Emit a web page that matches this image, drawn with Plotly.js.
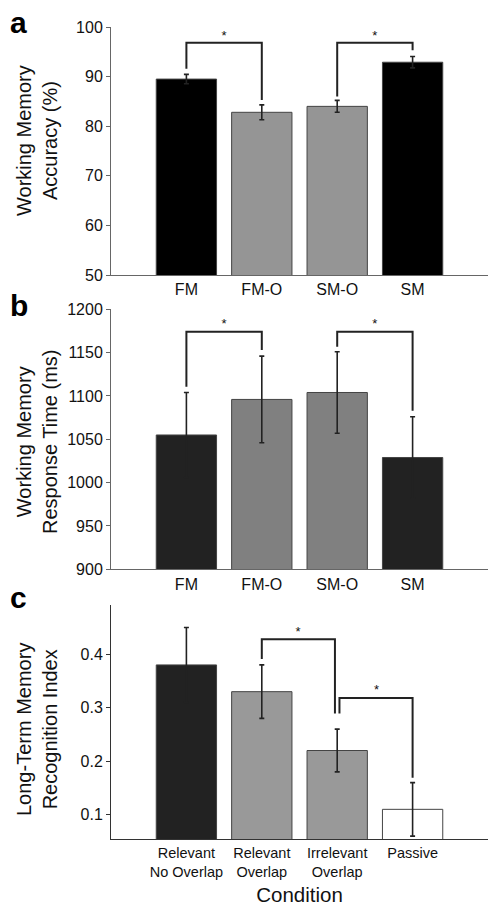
<!DOCTYPE html>
<html><head><meta charset="utf-8">
<script src="https://cdn.plot.ly/plotly-3.0.1.min.js"></script>
<style>html,body{margin:0;padding:0;background:#fff}</style></head>
<body>
<div id="chart" style="width:498px;height:914px"></div>
<script>
// ---- data ----
const positions = [1, 2, 3, 4];
const conditionsWM = ['FM', 'FM-O', 'SM-O', 'SM'];
const accuracyMean = [89.5, 82.8, 84.0, 92.9];
const accuracyErr = [0.95, 1.5, 1.2, 1.15];
const rtMean = [1055, 1096, 1104, 1029];
const rtErr = [49, 50, 47, 47];
const conditionsLTM = ['Relevant<br>No Overlap', 'Relevant<br>Overlap', 'Irrelevant<br>Overlap', 'Passive'];
const recogMean = [0.38, 0.33, 0.22, 0.11];
const recogErr = [0.07, 0.05, 0.04, 0.05];

// significance brackets
const sigAx = [1, 1, 2, 2, null, 3, 3, 4, 4];
const sigAy = [91.6, 96.8, 96.8, 85.3, null, 86.0, 96.8, 96.8, 95.3];
const starAx = [1.5, 3.5];
const starAy = [98.0, 98.0];
const sigBx = [1, 1, 2, 2, null, 3, 3, 4, 4];
const sigBy = [1110.7, 1174, 1174, 1153, null, 1156.8, 1174, 1174, 1083];
const starBx = [1.5, 3.5];
const starBy = [1182, 1182];
const sigCx = [2, 2, 2.97, 2.97, null, 3.03, 3.03, 4, 4];
const sigCy = [0.391, 0.428, 0.428, 0.289, null, 0.289, 0.318, 0.318, 0.169];
const starCx = [2.48, 3.52];
const starCy = [0.441, 0.331];

// ---- styles ----
const colorsA = ['#000000', '#959595', '#959595', '#000000'];
const colorsB = ['#222222', '#808080', '#808080', '#222222'];
const colorsC = ['#222222', '#999999', '#999999', '#ffffff'];
const FONT = 'Liberation Sans, Arial, Helvetica, sans-serif';

function barTrace(y, err, colors, xa, ya) {
  return {
    type: 'bar', x: positions, y: y, width: 0.8, xaxis: xa, yaxis: ya,
    marker: {color: colors, line: {color: '#444', width: 1}},
    error_y: {type: 'data', array: err, visible: true, color: '#222', thickness: 1.6, width: 2.5},
    hoverinfo: 'skip', showlegend: false
  };
}
function sigTrace(x, y, xa, ya) {
  return {type: 'scatter', mode: 'lines', x: x, y: y, xaxis: xa, yaxis: ya,
    line: {color: '#222', width: 2}, connectgaps: false, showlegend: false, hoverinfo: 'skip'};
}
function starTrace(x, y, xa, ya) {
  return {type: 'scatter', mode: 'text', x: x, y: y, xaxis: xa, yaxis: ya, text: x.map(() => '*'),
    textfont: {family: FONT, size: 13, color: '#111'}, textposition: 'middle center',
    showlegend: false, hoverinfo: 'skip'};
}

const data = [
  barTrace(accuracyMean, accuracyErr, colorsA, 'x', 'y'),
  sigTrace(sigAx, sigAy, 'x', 'y'),
  starTrace(starAx, starAy, 'x', 'y'),
  barTrace(rtMean, rtErr, colorsB, 'x2', 'y2'),
  sigTrace(sigBx, sigBy, 'x2', 'y2'),
  starTrace(starBx, starBy, 'x2', 'y2'),
  barTrace(recogMean, recogErr, colorsC, 'x3', 'y3'),
  sigTrace(sigCx, sigCy, 'x3', 'y3'),
  starTrace(starCx, starCy, 'x3', 'y3')
];

const W = 498, H = 914;
const xDom = [111 / W, 488 / W];
function xAx(anchor, ticktext, size, lineColor) {
  return {domain: xDom, anchor: anchor, range: [0, 5], tickvals: positions, ticktext: ticktext,
    ticks: '', showline: true, linecolor: lineColor, linewidth: 1, showgrid: false, zeroline: false,
    tickfont: {family: FONT, size: size, color: '#111'}, fixedrange: true};
}
function yAx(anchor, dom, range, dtick, tick0, lineColor) {
  return {domain: dom, anchor: anchor, range: range, dtick: dtick, tick0: tick0,
    ticks: 'outside', ticklen: 4, tickcolor: lineColor, showline: true, linecolor: lineColor, linewidth: 1,
    showgrid: false, zeroline: false, tickfont: {family: FONT, size: 16, color: '#111'}, fixedrange: true};
}

const layout = {
  width: W, height: H, margin: {l: 0, r: 0, t: 0, b: 0},
  paper_bgcolor: '#fff', plot_bgcolor: 'rgba(0,0,0,0)', showlegend: false,
  font: {family: FONT, color: '#111'},
  xaxis: xAx('y', conditionsWM, 16, '#666'),
  yaxis: yAx('x', [1 - 275 / H, 1 - 27 / H], [50, 100], 10, 50, '#666'),
  xaxis2: xAx('y2', conditionsWM, 16, '#666'),
  yaxis2: yAx('x2', [1 - 569.3 / H, 1 - 309.3 / H], [900, 1200], 50, 900, '#666'),
  xaxis3: Object.assign(xAx('y3', conditionsLTM, 14.5, '#333'),
    {title: {text: 'Condition', font: {family: FONT, size: 20.5, color: '#111'}, standoff: 9}}),
  yaxis3: yAx('x3', [1 - 839.3 / H, 1 - 605 / H], [0.054, 0.492], 0.1, 0.1, '#333'),
  annotations: [
    {text: 'Working Memory<br>Accuracy (%)', x: 37 / W, y: 1 - 141 / H},
    {text: 'Working Memory<br>Response Time (ms)', x: 37 / W, y: 1 - 442 / H},
    {text: 'Long-Term Memory<br>Recognition Index', x: 37 / W, y: 1 - 730 / H}
  ].map(a => Object.assign(a, {xref: 'paper', yref: 'paper', textangle: -90, showarrow: false,
      xanchor: 'center', yanchor: 'middle', font: {family: FONT, size: 20, color: '#111'}}))
    .concat([
      {text: '<b>a</b>', x: 8 / W, y: 1 - 4 / H},
      {text: '<b>b</b>', x: 8 / W, y: 1 - 287 / H},
      {text: '<b>c</b>', x: 8 / W, y: 1 - 579 / H}
    ].map(a => Object.assign(a, {xref: 'paper', yref: 'paper', showarrow: false,
      xanchor: 'left', yanchor: 'top', font: {family: FONT, size: 30, color: '#000'}})))
};

Plotly.newPlot('chart', data, layout, {staticPlot: true, displayModeBar: false});
</script>
</body></html>
